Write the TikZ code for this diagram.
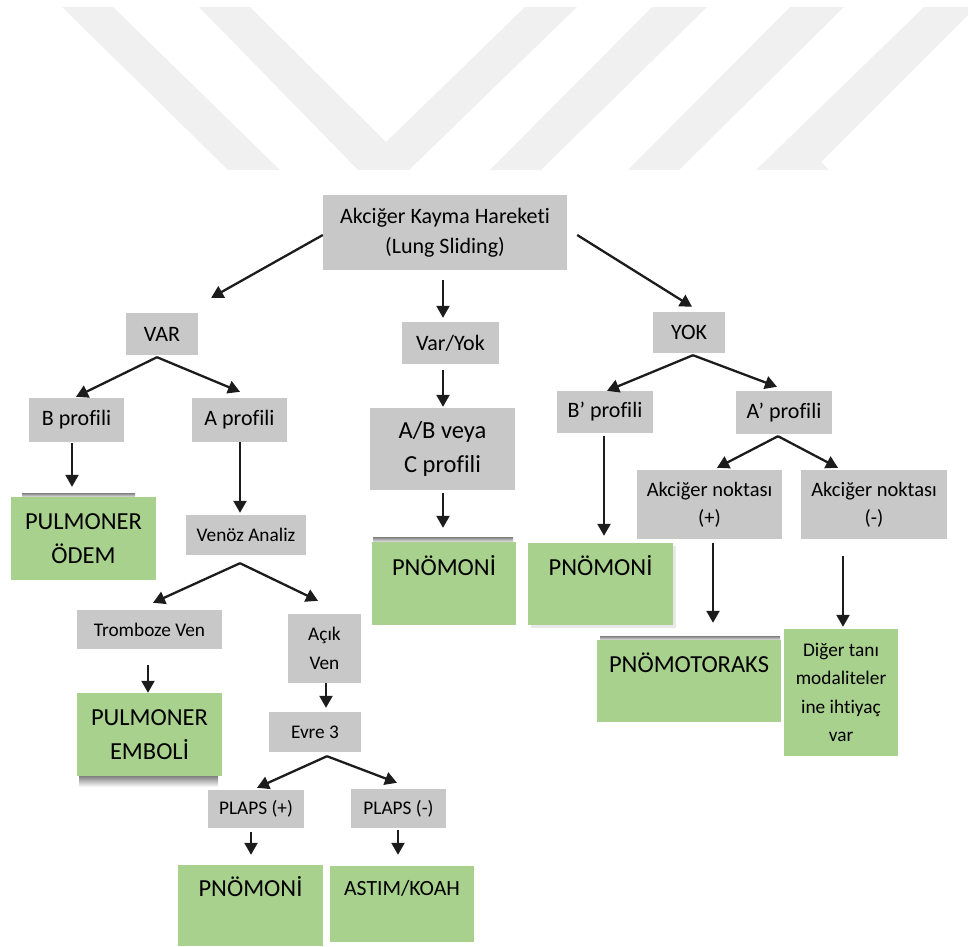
\documentclass[tikz,border=0pt]{standalone}
\usepackage{fontspec}
\setmainfont{Carlito}[Ligatures={NoCommon}]
\usetikzlibrary{arrows.meta}
\definecolor{boxgray}{RGB}{200,200,200}
\definecolor{boxgreen}{RGB}{169,209,142}
\definecolor{arrowc}{RGB}{28,28,28}
\definecolor{wmark}{RGB}{240,240,240}
\definecolor{shade}{RGB}{220,220,220}
\definecolor{lshade}{RGB}{232,232,232}
\tikzset{
  gbox/.style={fill=boxgray, inner sep=0pt, align=center, text=black},
  grbox/.style={fill=boxgreen, inner sep=0pt, align=center, text=black},
  arr/.style={draw=arrowc, line width=2.3pt, -{Triangle[length=12pt,width=13pt]}},
  fA/.style={font=\fontsize{22}{30}\selectfont},
  fB/.style={font=\fontsize{19.3}{28.5}\selectfont},
  fN/.style={font=\fontsize{20.5}{28}\selectfont},
  fG/.style={font=\fontsize{24.5}{34}\selectfont},
  fS/.style={font=\fontsize{21.7}{28}\selectfont},
}
\begin{document}
\begin{tikzpicture}[x={(1pt,0)}, y={(0,-1pt)}]
\useasboundingbox (0,0) rectangle (968,946);
% watermark
\fill[wmark] (62,7) -- (113,7) -- (280,170) -- (228,170) -- cycle;
\fill[wmark] (199,7) -- (250,7) -- (386,142) -- (525,7) -- (577,7) -- (409,170) -- (358,170) -- cycle;
\fill[wmark] (652,7) -- (707,7) -- (541,170) -- (490,170) -- cycle;
\fill[wmark] (790,7) -- (844,7) -- (679,170) -- (628,170) -- cycle;
\fill[wmark] (924,7) -- (968,7) -- (968,15) -- (821,162) -- (829,170) -- (756,170) -- cycle;
% shadows
\fill[shade] (22,493) rectangle (135,498);
\fill[shade] (373,537) rectangle (513,543);
\fill[shade] (79,776) rectangle (218,787);
\fill[lshade] (531,546) rectangle (676,628);
\fill[shade] (600,636) rectangle (780,641);
% nodes
\node[gbox, fA, minimum width=244, minimum height=75] (top) at (445,232.5) {Akciğer Kayma Hareketi\\(Lung Sliding)};
\node[gbox, fA, minimum width=72, minimum height=42] (var) at (162,334) {VAR};
\node[gbox, fA, minimum width=97, minimum height=42] (varyok) at (450.5,343) {Var/Yok};
\node[gbox, fG, minimum width=145, minimum height=82] (abc) at (442.5,449) {A/B veya\\C profili};
\node[grbox, fG, minimum width=144, text height=33, text depth=50] (pn1) at (444,583.5) {PNÖMONİ};
\node[gbox, fA, minimum width=72, minimum height=41] (yok) at (689,332.5) {YOK};
\node[gbox, fA, minimum width=95, minimum height=44] (bprof) at (76.5,420) {B profili};
\node[gbox, fA, minimum width=95, minimum height=44] (aprof) at (239.5,420) {A profili};
\node[grbox, fG, minimum width=145, minimum height=83] (odem) at (83.5,538.5) {PULMONER\\ÖDEM};
\node[gbox, fB, minimum width=120, minimum height=40] (venoz) at (246,535) {Venöz Analiz};
\node[gbox, fB, minimum width=145, minimum height=39] (tromb) at (149.5,629.5) {Tromboze Ven};
\node[gbox, fB, minimum width=73, minimum height=69] (acik) at (324.5,648.5) {Açık\\Ven};
\node[grbox, fG, minimum width=145, minimum height=83] (emboli) at (149.5,734.5) {PULMONER\\EMBOLİ};
\node[gbox, fB, minimum width=92, minimum height=40] (evre) at (315,732) {Evre 3};
\node[gbox, fB, minimum width=96, minimum height=38] (plapsp) at (256,809) {PLAPS (+)};
\node[gbox, fB, minimum width=95, minimum height=39] (plapsm) at (398.5,808.5) {PLAPS (-)};
\node[grbox, fG, minimum width=145, text height=31, text depth=50] (pn3) at (250.5,905.5) {PNÖMONİ};
\node[grbox, fS, minimum width=144, text height=29, text depth=47] (astim) at (402,904) {ASTIM/KOAH};
\node[gbox, fA, minimum width=96, minimum height=42] (bpp) at (605,412) {B’ profili};
\node[gbox, fA, minimum width=96, minimum height=43] (app) at (784,412.5) {A’ profili};
\node[grbox, fG, minimum width=145, text height=32, text depth=50] (pn2) at (600.5,584) {PNÖMONİ};
\node[gbox, fN, minimum width=145, minimum height=69] (anp) at (709.5,504.5) {Akciğer noktası\\(+)};
\node[gbox, fN, minimum width=146, minimum height=69] (anm) at (874,504.5) {Akciğer noktası\\(-)};
\node[grbox, fG, minimum width=184, text height=32, text depth=50] (pnt) at (689,681) {PNÖMOTORAKS};
\node[grbox, fB, minimum width=114, minimum height=127] (diger) at (841,692.5) {Diğer tanı\\modaliteler\\ine ihtiyaç\\var};
% connectors
\draw[arr] ([shift={(0,2.5)}]top.west) -- ([shift={(13,-15)}]var.north east);
\draw[arr] ([shift={(-2,10)}]top.south) -- ([shift={(-7.5,-4)}]varyok.north);
\draw[arr] ([shift={(-7.5,6)}]varyok.south) -- ([shift={(0.5,-1)}]abc.north);
\draw[arr] ([shift={(0.5,3)}]abc.south) -- ([shift={(-1,-14)}]pn1.north);
\draw[arr] ([shift={(10,2.5)}]top.east) -- ([shift={(3,-5)}]yok.north);
\draw[arr] ([shift={(-5,2)}]var.south) -- ([shift={(-0.5,-1)}]bprof.north);
\draw[arr] ([shift={(-5,2)}]var.south) -- ([shift={(0.5,-6)}]aprof.north);
\draw[arr] ([shift={(-4.5,1)}]bprof.south) -- ([shift={(-11.5,-10)}]odem.north);
\draw[arr] ([shift={(0.5,0)}]aprof.south) -- ([shift={(-6,-2)}]venoz.north);
\draw[arr] ([shift={(-6,8)}]venoz.south) -- ([shift={(3.5,-7)}]tromb.north);
\draw[arr] ([shift={(-6,8)}]venoz.south) -- ([shift={(-6.5,-13)}]acik.north);
\draw[arr] ([shift={(-1.5,16)}]tromb.south) -- ([shift={(-1.5,0)}]emboli.north);
\draw[arr] ([shift={(1.5,0)}]acik.south) -- ([shift={(11,-4)}]evre.north);
\draw[arr] ([shift={(12,4)}]evre.south) -- ([shift={(1,-2)}]plapsp.north);
\draw[arr] ([shift={(12,4)}]evre.south) -- ([shift={(-1.5,-6)}]plapsm.north);
\draw[arr] ([shift={(-5,4)}]plapsp.south) -- ([shift={(0.5,-10)}]pn3.north);
\draw[arr] ([shift={(-0.5,2)}]plapsm.south) -- ([shift={(-4,-11)}]astim.north);
\draw[arr] ([shift={(4,2)}]yok.south) -- ([shift={(2,0)}]bpp.north);
\draw[arr] ([shift={(4,2)}]yok.south) -- ([shift={(-7,-4)}]app.north);
\draw[arr] ([shift={(-1,3)}]bpp.south) -- ([shift={(3.5,-7)}]pn2.north);
\draw[arr] ([shift={(-6,2)}]app.south) -- ([shift={(7.5,-2)}]anp.north);
\draw[arr] ([shift={(-6,2)}]app.south) -- ([shift={(-36,-2)}]anm.north);
\draw[arr] ([shift={(3.5,4)}]anp.south) -- ([shift={(24,-17)}]pnt.north);
\draw[arr] ([shift={(-31,17)}]anm.south) -- ([shift={(2,-2)}]diger.north);
\end{tikzpicture}
\end{document}
